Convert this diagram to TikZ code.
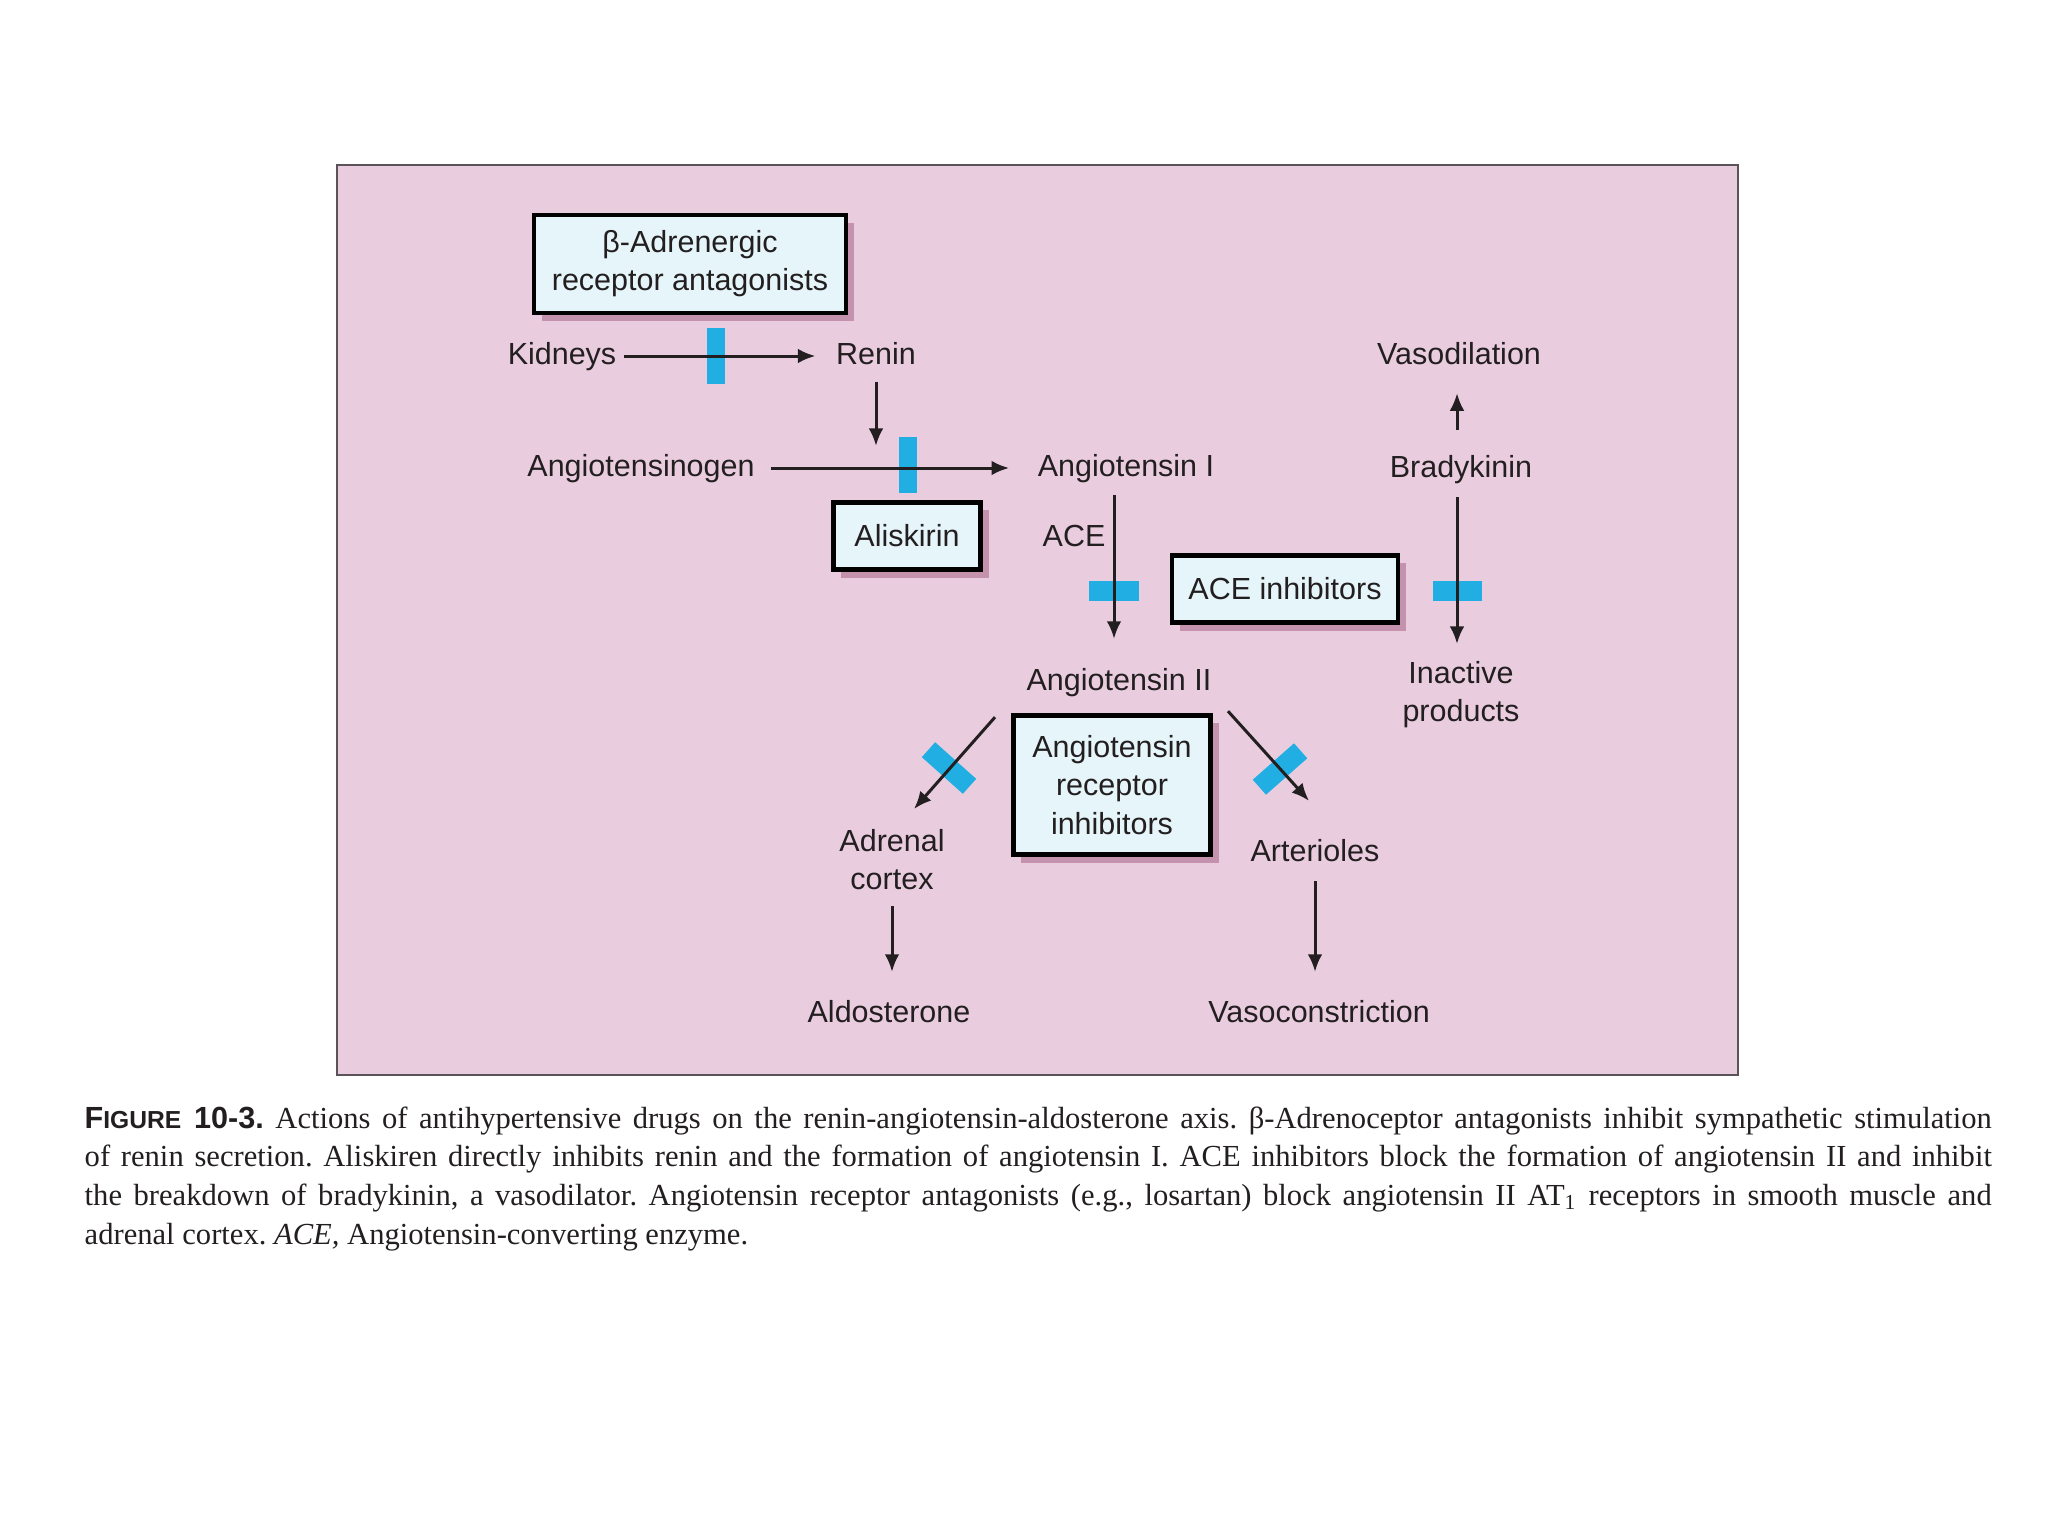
\documentclass[tikz,border=0pt]{standalone}
\usepackage{fontspec}
\setmainfont{Liberation Serif}
\setsansfont{Liberation Sans}
\usetikzlibrary{positioning, shapes, arrows.meta, calc, shadows}

\definecolor{panelpink}{RGB}{233,205,223}
\definecolor{panelgray}{RGB}{90,84,88}
\definecolor{boxcyan}{RGB}{229,245,249}
\definecolor{shadowpink}{RGB}{196,146,172}
\definecolor{blockblue}{RGB}{33,174,226}
\definecolor{ink}{RGB}{35,31,32}

\begin{document}
\frenchspacing
\begin{tikzpicture}[
    x=0.01cm, y=-0.01cm,
    >=Latex,
    arrow/.style={
        -{Latex[length=5pt, width=4.2pt]},
        line width=0.85pt,
        draw=ink
    },
    term/.style={
        font=\sffamily\fontsize{8.67pt}{10.85pt}\selectfont,
        text=ink,
        inner sep=2pt,
        text height=6.4pt,
        text depth=1.8pt
    },
    terms/.style={
        font=\sffamily\fontsize{8.67pt}{10.85pt}\selectfont,
        text=ink,
        inner sep=2pt,
        align=center
    },
    drug/.style={
        rectangle,
        draw=black,
        line width=1.2pt,
        fill=boxcyan,
        inner sep=2pt,
        align=center,
        text=ink,
        font=\sffamily\fontsize{8.67pt}{10.85pt}\selectfont,
        drop shadow={shadow xshift=0.08cm, shadow yshift=-0.08cm,
            fill=shadowpink, opacity=1}
    },
    block/.style={
        rectangle,
        fill=blockblue,
        inner sep=0pt
    },
    vblock/.style={block, minimum width=0.18cm, minimum height=0.55cm},
    hblock/.style={block, minimum width=0.49cm, minimum height=0.20cm},
    caption/.style={
        font=\fontsize{8.7pt}{11pt}\selectfont,
        text=ink,
        align=left,
        inner sep=0pt
    }
]

    \useasboundingbox (0,0) rectangle (2048,1536);

    % Panel
    \draw[draw=panelgray, line width=0.6pt, fill=panelpink] (337,165) rectangle (1738,1075);

    % Drug boxes
    \node[drug, minimum width=3.12cm, minimum height=0.98cm] (beta) at (690,264) {β-Adrenergic\\receptor antagonists};
    \node[drug, minimum width=1.47cm, minimum height=0.67cm] (alis) at (907,536) {Aliskirin};
    \node[drug, minimum width=2.26cm, minimum height=0.67cm] (acei) at (1285,589) {ACE inhibitors};
    \node[drug, minimum width=1.97cm, minimum height=1.39cm] (ari) at (1112,785) {Angiotensin\\receptor\\inhibitors};

    % Blocks
    \node[vblock] (kidblk) at (716,356) {};
    \node[vblock] (alisblk) at (908,465) {};
    \node[hblock] (aceblk) at (1114,591) {};
    \node[hblock] (bradblk) at (1457,591) {};
    \node[block, minimum width=0.55cm, minimum height=0.20cm, rotate=-41.7] (adrblk) at (949,768) {};
    \node[block, minimum width=0.55cm, minimum height=0.20cm, rotate=41.4] (artblk) at (1280,769) {};

    % Renin - angiotensin
    \node[term] (kid) at (562,356) {Kidneys};
    \node[term] (renin) at (876,356) {Renin};
    \node[term] (agen) at (641,468) {Angiotensinogen};
    \node[term] (ang1) at (1126,468) {Angiotensin I};
    \node[term] (acelbl) at (1074,538) {ACE};
    \node[term] (ang2) at (1119,682) {Angiotensin II};

    % Bradykinin
    \node[term] (vdil) at (1459,356) {Vasodilation};
    \node[term] (brady) at (1461,469) {Bradykinin};
    \node[terms] (inact) at (1461,695) {Inactive\\products};

    % Targets
    \node[terms] (adr) at (892,860) {Adrenal\\cortex};
    \node[term] (aldo) at (889,1014) {Aldosterone};
    \node[term] (art) at (1315,853) {Arterioles};
    \node[term] (vcon) at (1319,1014) {Vasoconstriction};

    % Connections
    \draw[arrow, shorten >=0.13cm] (kid) -- (renin);
    \draw[arrow, shorten <=0.04cm, shorten >=0.22cm] (renin.south) -- (renin |- agen);
    \draw[arrow, shorten <=0.09cm, shorten >=0.21cm] (agen) -- (ang1);
    \draw[arrow, shorten <=0.05cm, shorten >=0.21cm] (ang1.south -| aceblk) -- (ang2.north -| aceblk);
    \draw[arrow, shorten <=0.17cm, shorten >=0.15cm] (brady.north -| bradblk) -- (vdil.south -| bradblk);
    \draw[arrow, shorten <=0.06cm, shorten >=0.10cm] (brady.south -| bradblk) -- (inact.north -| bradblk);
    \draw[arrow] ($(ang2.south)+(-124,13)$) -- ($(adr.north)+(22,-13)$);
    \draw[arrow] ($(ang2.south)+(109,7)$) -- ($(art.north)+(-6,-30)$);
    \draw[arrow, shorten <=0.08cm, shorten >=0.2cm] (adr.south) -- (adr.south |- aldo.north);
    \draw[arrow, shorten <=0.06cm, shorten >=0.2cm] (art.south) -- (art.south |- vcon.north);

    % Caption
    \node[caption, anchor=north west] (cap) at (84,1106) {%
        \makebox[19.06cm][s]{{\sffamily\bfseries F{\fontsize{7pt}{8pt}\selectfont IGURE} 10-3.} Actions of antihypertensive drugs on the renin-angiotensin-aldosterone axis. β-Adrenoceptor antagonists inhibit sympathetic stimulation}\\
        \makebox[19.06cm][s]{of renin secretion. Aliskiren directly inhibits renin and the formation of angiotensin I. ACE inhibitors block the formation of angiotensin II and inhibit}\\
        \makebox[19.06cm][s]{the breakdown of bradykinin, a vasodilator. Angiotensin receptor antagonists (e.g., losartan) block angiotensin II AT\textsubscript{1} receptors in smooth muscle and}\\
        adrenal cortex. \textit{ACE,} Angiotensin-converting enzyme.};

\end{tikzpicture}
\end{document}
